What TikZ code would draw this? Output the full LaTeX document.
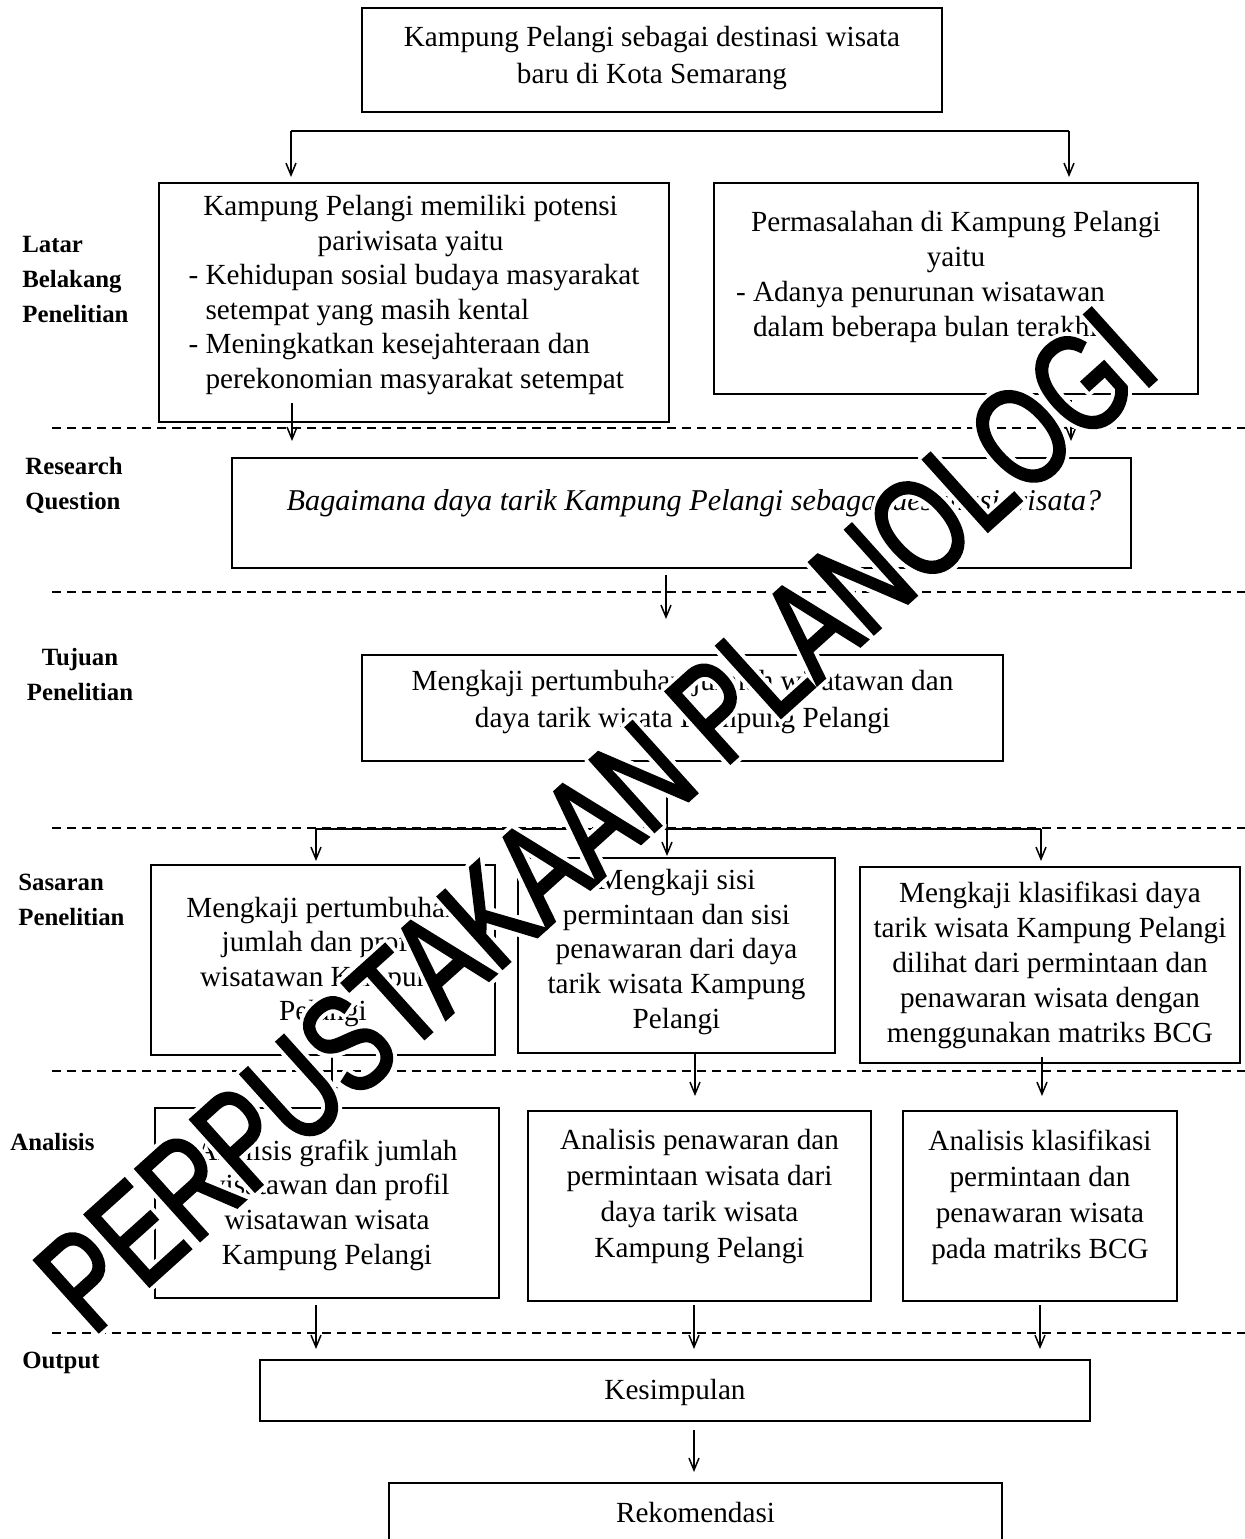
\documentclass[tikz,border=0pt]{standalone}
\usepackage{fontspec}
\setmainfont{Liberation Serif}
\newfontfamily\wmfont[FakeStretch=0.73, FakeBold=2]{Liberation Sans}
\usepackage{contour}
\contourlength{2pt}
\usetikzlibrary{arrows.meta}

\newcommand{\ctrline}[2]{\makebox[#1]{#2}}

\begin{document}
\begin{tikzpicture}[x=0.5pt, y=-0.5pt,
    box/.style={draw, line width=1pt, inner sep=0pt},
    txt/.style={font=\fontsize{14.6}{17.3}\selectfont, align=center, inner sep=0pt},
    lbl/.style={font=\fontsize{12.4}{17.5}\selectfont\bfseries, align=left, inner sep=0pt, anchor=west},
    arr/.style={-{Straight Barb[length=6pt, width=5pt]}, line width=0.75pt},
    sepline/.style={line width=1pt, dash pattern=on 4.5pt off 3pt}]
\useasboundingbox (0,0) rectangle (1245,1539);

% garis putus-putus antar bagian
\draw[sepline] (52,428) -- (1245,428);
\draw[sepline] (52,592) -- (1245,592);
\draw[sepline] (52,828) -- (1245,828);
\draw[sepline] (52,1071) -- (1245,1071);
\draw[sepline] (52,1333) -- (1245,1333);

% label kiri
\node[lbl] (lbLatar) at (22,279.5) {Latar\\Belakang\\Penelitian};
\node[lbl] (lbRq) at (25,485) {Research\\Question};
\node[lbl, align=center, anchor=center] (lbTujuan) at (80,675) {Tujuan\\Penelitian};
\node[lbl] (lbSasaran) at (18,900) {Sasaran\\Penelitian};
\node[lbl] (lbAnalisis) at (10,1142) {Analisis};
\node[lbl] (lbOutput) at (22,1363) {Output};

% kotak
\node[box, minimum width=290pt, minimum height=52pt] (top) at (652,60) {};
\node[txt, font=\fontsize{14.6}{18.5}\selectfont] (topT) at (652,58.5)
    {Kampung Pelangi sebagai destinasi wisata\\baru di Kota Semarang};

\node[box, minimum width=255pt, minimum height=119.5pt] (latar1) at (414,302.5) {};
\node[txt, align=left] (latar1T) at (414,295)
    {\ctrline{222pt}{Kampung Pelangi memiliki potensi}\\
     \ctrline{222pt}{pariwisata yaitu}\\
     - Kehidupan sosial budaya masyarakat\\
     \phantom{- }setempat yang masih kental\\
     - Meningkatkan kesejahteraan dan\\
     \phantom{- }perekonomian masyarakat setempat};

\node[box, minimum width=242pt, minimum height=105.5pt] (latar2) at (956,288.5) {};
\node[txt, align=left, font=\fontsize{14.6}{17.5}\selectfont] (latar2T) at (956,277)
    {\ctrline{220pt}{Permasalahan di Kampung Pelangi}\\
     \ctrline{220pt}{yaitu}\\
     - Adanya penurunan wisatawan\\
     \phantom{- }dalam beberapa bulan terakhir};

\node[box, minimum width=449.5pt, minimum height=55pt] (rq) at (681.5,513) {};
\node[txt, font=\fontsize{15.1}{17.3}\selectfont] (rqT) at (694,503)
    {\itshape Bagaimana daya tarik Kampung Pelangi sebagai destinasi wisata?};

\node[box, minimum width=320.5pt, minimum height=53pt] (tujuan) at (682.5,708) {};
\node[txt, font=\fontsize{14.6}{18.5}\selectfont] (tujuanT) at (682.5,702)
    {Mengkaji pertumbuhan jumlah wisatawan dan\\daya tarik wisata Kampung Pelangi};

\node[box, minimum width=172pt, minimum height=95pt] (sas1) at (323,960) {};
\node[txt] (sas1T) at (323,962)
    {Mengkaji pertumbuhan\\jumlah dan profil\\wisatawan Kampung\\Pelangi};

\node[box, minimum width=158.5pt, minimum height=97.5pt] (sas2) at (676.5,955.5) {};
\node[txt] (sas2T) at (676.5,952)
    {Mengkaji sisi\\permintaan dan sisi\\penawaran dari daya\\tarik wisata Kampung\\Pelangi};

\node[box, minimum width=190pt, minimum height=98pt] (sas3) at (1050,965) {};
\node[txt, font=\fontsize{14.6}{17.5}\selectfont] (sas3T) at (1050,965)
    {Mengkaji klasifikasi daya\\tarik wisata Kampung Pelangi\\dilihat dari permintaan dan\\penawaran wisata dengan\\menggunakan matriks BCG};

\node[box, minimum width=172pt, minimum height=95pt] (ana1) at (327,1203) {};
\node[txt] (ana1T) at (327,1205)
    {Analisis grafik jumlah\\wisatawan dan profil\\wisatawan wisata\\Kampung Pelangi};

\node[box, minimum width=171.5pt, minimum height=95pt] (ana2) at (699.5,1206) {};
\node[txt, font=\fontsize{14.6}{18}\selectfont] (ana2T) at (699.5,1197)
    {Analisis penawaran dan\\permintaan wisata dari\\daya tarik wisata\\Kampung Pelangi};

\node[box, minimum width=137pt, minimum height=95pt] (ana3) at (1040,1206) {};
\node[txt, font=\fontsize{14.6}{18}\selectfont] (ana3T) at (1040,1197)
    {Analisis klasifikasi\\permintaan dan\\penawaran wisata\\pada matriks BCG};

\node[box, minimum width=415pt, minimum height=30.5pt] (kes) at (675,1390.5) {};
\node[txt] (kesT) at (675,1392) {Kesimpulan};

\node[box, minimum width=306.5pt, minimum height=31pt] (rek) at (695.5,1514) {};
\node[txt] (rekT) at (695.5,1512) {Rekomendasi};

% panah
\coordinate (br1) at (291,131);
\coordinate (br2) at (1069,131);
\draw[line width=0.75pt] (br1) -- (br2);
\draw[arr, shorten >=2.5pt] (br1) -- (br1 |- latar1.north);
\draw[arr, shorten >=2.5pt] (br2) -- (br2 |- latar2.north);

\coordinate (a1) at (292,403);
\coordinate (a2) at (1071,400);
\draw[arr, shorten >=8pt] (a1) -- (a1 |- rq.north);
\draw[arr, shorten >=8pt] (a2) -- (a2 |- rq.north);

\coordinate (a3) at (666,575);
\draw[arr, shorten >=17.5pt] (a3) -- (a3 |- tujuan.north);

\coordinate (a4) at (667,761);
\draw[arr, shorten >=0.5pt] (a4) -- (a4 |- sas2.north);

\coordinate (br3) at (316,829);
\coordinate (br4) at (1041,829);
\draw[line width=0.75pt] (br3) -- (br4);
\draw[arr, shorten >=1.5pt] (br3) -- (br3 |- sas1.north);
\draw[arr, shorten >=2.5pt] (br4) -- (br4 |- sas3.north);

\coordinate (a5) at (332,1055);
\coordinate (a6) at (695,1053);
\coordinate (a7) at (1042,1057);
\draw[arr, shorten >=3pt] (a5) -- (a5 |- ana1.north);
\draw[arr, shorten >=7pt] (a6) -- (a6 |- ana2.north);
\draw[arr, shorten >=7pt] (a7) -- (a7 |- ana3.north);

\coordinate (a8) at (316,1305);
\coordinate (a9) at (694,1305);
\coordinate (a10) at (1040,1305);
\draw[arr, shorten >=5pt] (a8) -- (a8 |- kes.north);
\draw[arr, shorten >=5pt] (a9) -- (a9 |- kes.north);
\draw[arr, shorten >=5pt] (a10) -- (a10 |- kes.north);

\coordinate (a11) at (694,1430);
\draw[arr, shorten >=5pt] (a11) -- (a11 |- rek.north);

% watermark
\node[rotate=42, inner sep=0pt] (wm) at (597,821)
    {\wmfont\fontsize{70}{70}\selectfont\contour{white}{PERPUSTAKAAN PLANOLOGI}};
\end{tikzpicture}
\end{document}
